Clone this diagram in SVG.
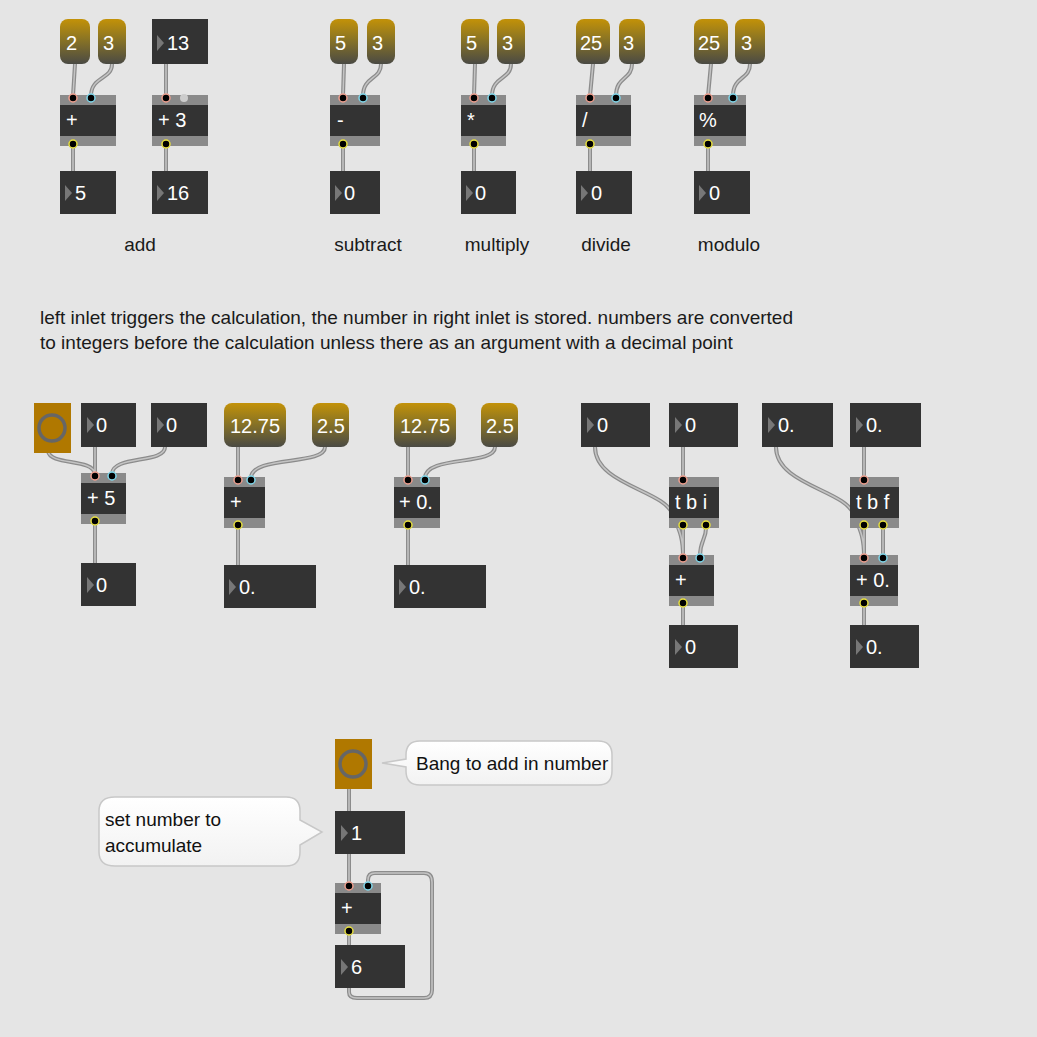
<svg xmlns="http://www.w3.org/2000/svg" width="1037" height="1037" viewBox="0 0 1037 1037">
<style>
.t{font-family:"Liberation Sans",Arial,sans-serif;font-size:20px;fill:#fff}
.l{font-family:"Liberation Sans",Arial,sans-serif;font-size:19px;fill:#1a1a1a}
.c{fill:none;stroke:#8c8c8c;stroke-width:4;stroke-linecap:round}
.ci{fill:none;stroke:#c4c4c4;stroke-width:1.5;stroke-linecap:round}
.num{fill:#333}
.band{fill:#8a8a8a}
.tri{fill:#777}
.msg{fill:url(#g)}
</style>
<defs>
<linearGradient id="g" x1="0" y1="0" x2="0" y2="1"><stop offset="0" stop-color="#c39208"/><stop offset="0.45" stop-color="#8a7424"/><stop offset="1" stop-color="#4a4a44"/></linearGradient>
<linearGradient id="cg" x1="0" y1="0" x2="0" y2="1"><stop offset="0" stop-color="#fff"/><stop offset="1" stop-color="#f2f2f2"/></linearGradient>
<circle id="il" r="4" fill="#000" stroke="#f0a090" stroke-width="1.5"/>
<circle id="ir" r="4" fill="#000" stroke="#80d8ec" stroke-width="1.5"/>
<circle id="ol" r="4" fill="#000" stroke="#e8e040" stroke-width="1.5"/>
<polygon id="tr" points="0,-8 7,0 0,8" fill="#777"/>
<g id="bang"><rect width="37" height="50" fill="#b07800"/><circle cx="18" cy="25" r="13" fill="none" stroke="#666" stroke-width="3.5"/></g>
</defs>
<rect width="1037" height="1037" fill="#e5e5e5"/>

<g id="connectors">
<path class="c" d="M75 64 L73 96 M112 64 C112 80 91 76 91 96 M166 64 L166 96 M73 146 L73 171 M166 146 L166 171"/>
<path class="c" d="M344 64 L343 96 M381 64 C381 80 363 76 363 96 M343 146 L343 171"/>
<path class="c" d="M475 64 L474 96 M511 64 C511 80 492 76 492 96 M474 146 L474 171"/>
<path class="c" d="M593 64 L590 96 M632 64 C632 80 616 76 616 96 M590 146 L590 171"/>
<path class="c" d="M711 64 L708 96 M750 64 C750 80 733 76 733 96 M708 146 L708 171"/>
<path class="c" d="M48 451 C50 466 93 458 95 474 M95 447 L95 474 M165 447 C165 464 112 455 112 474 M95 524 L95 563"/>
<path class="c" d="M238 447 L238 478 M325 447 C325 466 251 455 251 478 M238 528 L238 565"/>
<path class="c" d="M408 447 L408 478 M495 447 C495 466 425 455 425 478 M408 528 L408 565"/>
<path class="c" d="M683 447 L683 478 M595 447 C595 485 665 490 673 515 C678 528 683 535 683 556 M683 528 L683 556 M706 528 C706 540 700 540 700 556 M683 606 L683 625"/>
<path class="c" d="M864 447 L864 478 M776 447 C776 485 846 490 854 515 C859 528 864 535 864 556 M864 528 L864 556 M883 528 L883 556 M864 606 L864 625"/>
<path class="c" d="M349 787 L349 811 M349 854 L349 884 M349 934 L349 945 M349 988 L349 992 Q349 998 357 998 L424 998 Q432 998 432 990 L432 882 Q432 873 424 873 L375 873 Q368 873 368 880 L368 884"/>
<path class="ci" d="M75 64 L73 96 M112 64 C112 80 91 76 91 96 M166 64 L166 96 M73 146 L73 171 M166 146 L166 171 M344 64 L343 96 M381 64 C381 80 363 76 363 96 M343 146 L343 171 M475 64 L474 96 M511 64 C511 80 492 76 492 96 M474 146 L474 171 M593 64 L590 96 M632 64 C632 80 616 76 616 96 M590 146 L590 171 M711 64 L708 96 M750 64 C750 80 733 76 733 96 M708 146 L708 171 M48 451 C50 466 93 458 95 474 M95 447 L95 474 M165 447 C165 464 112 455 112 474 M95 524 L95 563 M238 447 L238 478 M325 447 C325 466 251 455 251 478 M238 528 L238 565 M408 447 L408 478 M495 447 C495 466 425 455 425 478 M408 528 L408 565 M683 447 L683 478 M595 447 C595 485 665 490 673 515 C678 528 683 535 683 556 M683 528 L683 556 M706 528 C706 540 700 540 700 556 M683 606 L683 625 M864 447 L864 478 M776 447 C776 485 846 490 854 515 C859 528 864 535 864 556 M864 528 L864 556 M883 528 L883 556 M864 606 L864 625 M349 787 L349 811 M349 854 L349 884 M349 934 L349 945 M349 988 L349 992 Q349 998 357 998 L424 998 Q432 998 432 990 L432 882 Q432 873 424 873 L375 873 Q368 873 368 880 L368 884"/>
</g>

<!-- Row 1 -->
<g id="m2"><rect class="msg" x="60" y="19" width="30" height="45" rx="8"/><text class="t" x="66" y="50">2</text></g>
<g id="m3a"><rect class="msg" x="98" y="19" width="28" height="45" rx="8"/><text class="t" x="103" y="50">3</text></g>
<g id="n13"><rect class="num" x="152" y="19" width="56" height="45"/><use href="#tr" x="157" y="43"/><text class="t" x="167" y="50">13</text></g>
<g id="oadd"><rect class="band" x="60" y="95" width="56" height="51"/><rect class="num" x="60" y="105" width="56" height="31"/><text class="t" x="66" y="127">+</text><use href="#il" x="73" y="98"/><use href="#ir" x="91" y="98"/><use href="#ol" x="73" y="144"/></g>
<g id="oadd3"><rect class="band" x="152" y="95" width="56" height="51"/><rect class="num" x="152" y="105" width="56" height="31"/><text class="t" x="158" y="127">+ 3</text><use href="#il" x="166" y="98"/><circle cx="184" cy="98" r="4" fill="#ccc"/><use href="#ol" x="166" y="144"/></g>
<g id="n5"><rect class="num" x="60" y="171" width="56" height="43"/><use href="#tr" x="65" y="193"/><text class="t" x="75" y="200">5</text></g>
<g id="n16"><rect class="num" x="152" y="171" width="56" height="43"/><use href="#tr" x="157" y="193"/><text class="t" x="167" y="200">16</text></g>

<g id="sm5"><rect class="msg" x="330" y="19" width="28" height="45" rx="8"/><text class="t" x="335" y="50">5</text></g>
<g id="sm3"><rect class="msg" x="367" y="19" width="28" height="45" rx="8"/><text class="t" x="372" y="50">3</text></g>
<g id="osub"><rect class="band" x="330" y="95" width="50" height="51"/><rect class="num" x="330" y="105" width="50" height="31"/><text class="t" x="337" y="127">-</text><use href="#il" x="343" y="98"/><use href="#ir" x="363" y="98"/><use href="#ol" x="343" y="144"/></g>
<g id="sn0"><rect class="num" x="330" y="171" width="50" height="43"/><use href="#tr" x="335" y="193"/><text class="t" x="344" y="200">0</text></g>

<g id="mm5"><rect class="msg" x="461" y="19" width="28" height="45" rx="8"/><text class="t" x="466" y="50">5</text></g>
<g id="mm3"><rect class="msg" x="497" y="19" width="28" height="45" rx="8"/><text class="t" x="502" y="50">3</text></g>
<g id="omul"><rect class="band" x="461" y="95" width="45" height="51"/><rect class="num" x="461" y="105" width="45" height="31"/><text class="t" x="467" y="127">*</text><use href="#il" x="474" y="98"/><use href="#ir" x="492" y="98"/><use href="#ol" x="474" y="144"/></g>
<g id="mn0"><rect class="num" x="461" y="171" width="55" height="43"/><use href="#tr" x="466" y="193"/><text class="t" x="475" y="200">0</text></g>

<g id="dm25"><rect class="msg" x="576" y="19" width="34" height="45" rx="8"/><text class="t" x="580" y="50">25</text></g>
<g id="dm3"><rect class="msg" x="619" y="19" width="26" height="45" rx="8"/><text class="t" x="623" y="50">3</text></g>
<g id="odiv"><rect class="band" x="576" y="95" width="55" height="51"/><rect class="num" x="576" y="105" width="55" height="31"/><text class="t" x="582" y="127">/</text><use href="#il" x="590" y="98"/><use href="#ir" x="616" y="98"/><use href="#ol" x="590" y="144"/></g>
<g id="dn0"><rect class="num" x="576" y="171" width="56" height="43"/><use href="#tr" x="581" y="193"/><text class="t" x="591" y="200">0</text></g>

<g id="om25"><rect class="msg" x="694" y="19" width="34" height="45" rx="8"/><text class="t" x="698" y="50">25</text></g>
<g id="om3"><rect class="msg" x="735" y="19" width="30" height="45" rx="8"/><text class="t" x="741" y="50">3</text></g>
<g id="omod"><rect class="band" x="694" y="95" width="52" height="51"/><rect class="num" x="694" y="105" width="52" height="31"/><text class="t" x="699" y="127">%</text><use href="#il" x="708" y="98"/><use href="#ir" x="733" y="98"/><use href="#ol" x="708" y="144"/></g>
<g id="on0"><rect class="num" x="694" y="171" width="56" height="43"/><use href="#tr" x="699" y="193"/><text class="t" x="709" y="200">0</text></g>

<g id="labels">
<text class="l" x="140" y="251" text-anchor="middle">add</text>
<text class="l" x="368" y="251" text-anchor="middle">subtract</text>
<text class="l" x="497" y="251" text-anchor="middle">multiply</text>
<text class="l" x="606" y="251" text-anchor="middle">divide</text>
<text class="l" x="729" y="251" text-anchor="middle">modulo</text>
<text class="l" x="40" y="324">left inlet triggers the calculation, the number in right inlet is stored. numbers are converted</text>
<text class="l" x="40" y="349">to integers before the calculation unless there as an argument with a decimal point</text>
</g>

<!-- Row 2 -->
<g id="bang1"><use href="#bang" x="34" y="403"/></g>
<g id="r2n0a"><rect class="num" x="81" y="403" width="55" height="44"/><use href="#tr" x="87" y="425"/><text class="t" x="96" y="432">0</text></g>
<g id="r2n0b"><rect class="num" x="151" y="403" width="56" height="44"/><use href="#tr" x="157" y="425"/><text class="t" x="166" y="432">0</text></g>
<g id="oadd5"><rect class="band" x="81" y="473" width="45" height="51"/><rect class="num" x="81" y="483" width="45" height="31"/><text class="t" x="87" y="505">+ 5</text><use href="#il" x="95" y="476"/><use href="#ir" x="112" y="476"/><use href="#ol" x="95" y="521"/></g>
<g id="r2n0c"><rect class="num" x="81" y="563" width="55" height="43"/><use href="#tr" x="87" y="585"/><text class="t" x="96" y="592">0</text></g>

<g id="fm1"><rect class="msg" x="224" y="403" width="62" height="44" rx="8"/><text class="t" x="230" y="433">12.75</text></g>
<g id="fm2"><rect class="msg" x="312" y="403" width="37" height="44" rx="8"/><text class="t" x="317" y="433">2.5</text></g>
<g id="ofadd"><rect class="band" x="224" y="477" width="41" height="51"/><rect class="num" x="224" y="487" width="41" height="31"/><text class="t" x="230" y="509">+</text><use href="#il" x="238" y="480"/><use href="#ir" x="251" y="480"/><use href="#ol" x="238" y="525"/></g>
<g id="fn1"><rect class="num" x="224" y="565" width="92" height="43"/><use href="#tr" x="229" y="587"/><text class="t" x="239" y="594">0.</text></g>

<g id="gm1"><rect class="msg" x="394" y="403" width="62" height="44" rx="8"/><text class="t" x="400" y="433">12.75</text></g>
<g id="gm2"><rect class="msg" x="481" y="403" width="37" height="44" rx="8"/><text class="t" x="486" y="433">2.5</text></g>
<g id="ogadd"><rect class="band" x="394" y="477" width="46" height="51"/><rect class="num" x="394" y="487" width="46" height="31"/><text class="t" x="399" y="509">+ 0.</text><use href="#il" x="408" y="480"/><use href="#ir" x="425" y="480"/><use href="#ol" x="408" y="525"/></g>
<g id="gn1"><rect class="num" x="394" y="565" width="92" height="43"/><use href="#tr" x="399" y="587"/><text class="t" x="409" y="594">0.</text></g>

<g id="tn1"><rect class="num" x="581" y="403" width="69" height="44"/><use href="#tr" x="587" y="425"/><text class="t" x="597" y="432">0</text></g>
<g id="tn2"><rect class="num" x="669" y="403" width="69" height="44"/><use href="#tr" x="675" y="425"/><text class="t" x="685" y="432">0</text></g>
<g id="otbi"><rect class="band" x="669" y="477" width="50" height="51"/><rect class="num" x="669" y="487" width="50" height="31"/><text class="t" x="675" y="509">t b i</text><use href="#il" x="683" y="480"/><use href="#ol" x="683" y="525"/><use href="#ol" x="706" y="525"/></g>
<g id="otadd"><rect class="band" x="669" y="555" width="45" height="51"/><rect class="num" x="669" y="565" width="45" height="31"/><text class="t" x="675" y="587">+</text><use href="#il" x="683" y="558"/><use href="#ir" x="700" y="558"/><use href="#ol" x="683" y="603"/></g>
<g id="tn3"><rect class="num" x="669" y="625" width="69" height="43"/><use href="#tr" x="675" y="647"/><text class="t" x="685" y="654">0</text></g>

<g id="un1"><rect class="num" x="762" y="403" width="71" height="44"/><use href="#tr" x="768" y="425"/><text class="t" x="778" y="432">0.</text></g>
<g id="un2"><rect class="num" x="850" y="403" width="71" height="44"/><use href="#tr" x="856" y="425"/><text class="t" x="866" y="432">0.</text></g>
<g id="otbf"><rect class="band" x="850" y="477" width="49" height="51"/><rect class="num" x="850" y="487" width="49" height="31"/><text class="t" x="856" y="509">t b f</text><use href="#il" x="864" y="480"/><use href="#ol" x="864" y="525"/><use href="#ol" x="883" y="525"/></g>
<g id="ouadd"><rect class="band" x="850" y="555" width="48" height="51"/><rect class="num" x="850" y="565" width="48" height="31"/><text class="t" x="856" y="587">+ 0.</text><use href="#il" x="864" y="558"/><use href="#ir" x="883" y="558"/><use href="#ol" x="864" y="603"/></g>
<g id="un3"><rect class="num" x="850" y="625" width="69" height="43"/><use href="#tr" x="856" y="647"/><text class="t" x="866" y="654">0.</text></g>

<!-- Row 3 -->
<g id="bang2"><use href="#bang" x="335" y="739"/></g>
<g id="cmt1"><path d="M420 741 L598 741 Q612 741 612 755 L612 771 Q612 785 598 785 L420 785 Q406 785 406 771 L406 767 L382 763 L406 759 L406 755 Q406 741 420 741 Z" fill="url(#cg)" stroke="#c8c8c8" stroke-width="1.5"/><text class="l" x="416" y="770" style="fill:#111">Bang to add in number</text></g>
<g id="cmt2"><path d="M115 797 L286 797 Q300 797 300 811 L300 820 L322 832 L300 845 L300 852 Q300 866 286 866 L115 866 Q99 866 99 852 L99 811 Q99 797 115 797 Z" fill="url(#cg)" stroke="#c8c8c8" stroke-width="1.5"/><text class="l" x="105" y="826" style="fill:#111">set number to</text><text class="l" x="105" y="852" style="fill:#111">accumulate</text></g>
<g id="an1"><rect class="num" x="335" y="811" width="70" height="43"/><use href="#tr" x="341" y="833"/><text class="t" x="351" y="840">1</text></g>
<g id="aadd"><rect class="band" x="335" y="883" width="46" height="51"/><rect class="num" x="335" y="893" width="46" height="31"/><text class="t" x="341" y="915">+</text><use href="#il" x="349" y="886"/><use href="#ir" x="368" y="886"/><use href="#ol" x="349" y="931"/></g>
<g id="an6"><rect class="num" x="335" y="945" width="70" height="43"/><use href="#tr" x="341" y="967"/><text class="t" x="351" y="974">6</text></g>
</svg>
